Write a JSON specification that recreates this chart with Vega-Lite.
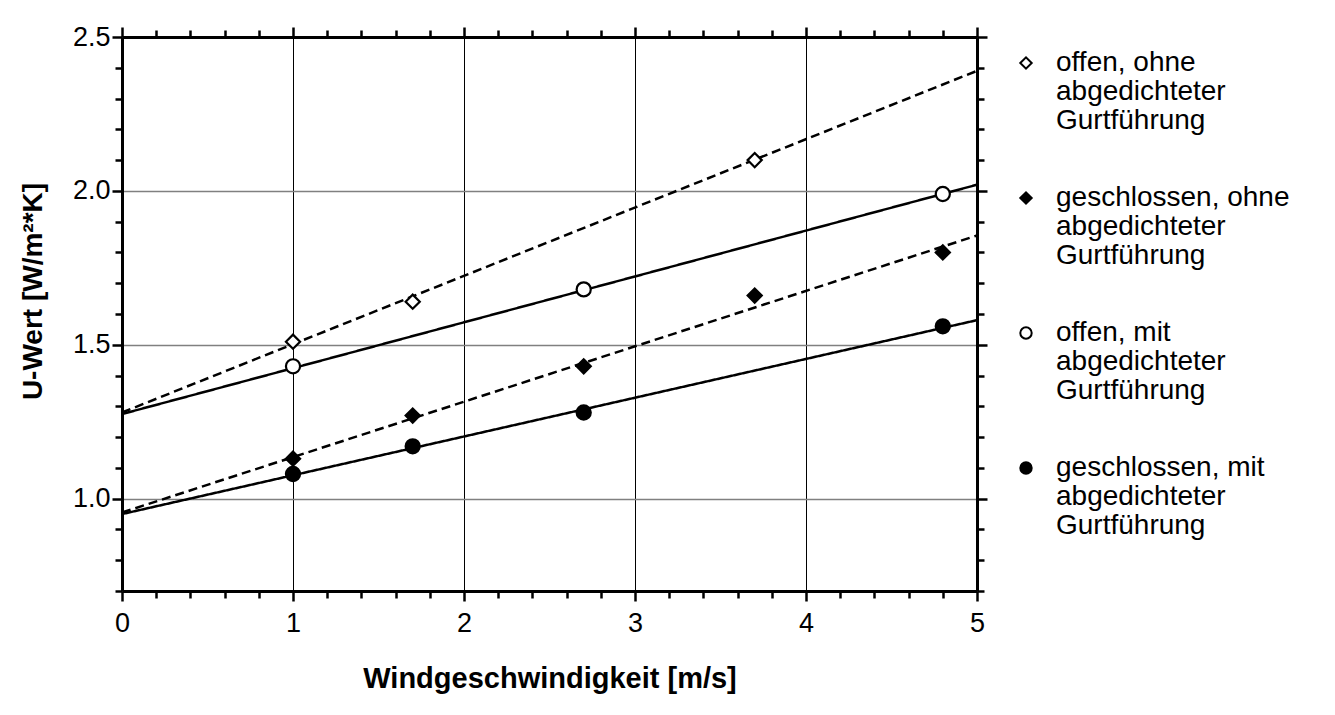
{
  "$schema": "https://vega.github.io/schema/vega-lite/v6.json",
  "width": 855,
  "height": 554,
  "autosize": "none",
  "padding": {"left": 122, "top": 37, "right": 358, "bottom": 124},
  "background": "white",
  "config": {
    "font": "Liberation Sans",
    "view": {"stroke": null},
    "style": {"guide-label": {"lineHeight": 29}},
    "legend": {
      "title": null,
      "labelFontSize": 28, "labelColor": "black", "labelLimit": 400,
      "symbolSize": 130, "symbolStrokeWidth": 2,
      "rowPadding": 49, "labelOffset": 16
    }
  },
  "datasets": {
    "lines": [
      {"series": "offen, ohne\nabgedichteter\nGurtführung", "dichtung": "ohne", "wind": 0, "u": 1.28},
      {"series": "offen, ohne\nabgedichteter\nGurtführung", "dichtung": "ohne", "wind": 5, "u": 2.39},
      {"series": "geschlossen, ohne\nabgedichteter\nGurtführung", "dichtung": "ohne", "wind": 0, "u": 0.955},
      {"series": "geschlossen, ohne\nabgedichteter\nGurtführung", "dichtung": "ohne", "wind": 5, "u": 1.855},
      {"series": "offen, mit\nabgedichteter\nGurtführung", "dichtung": "mit", "wind": 0, "u": 1.275},
      {"series": "offen, mit\nabgedichteter\nGurtführung", "dichtung": "mit", "wind": 5, "u": 2.02},
      {"series": "geschlossen, mit\nabgedichteter\nGurtführung", "dichtung": "mit", "wind": 0, "u": 0.95},
      {"series": "geschlossen, mit\nabgedichteter\nGurtführung", "dichtung": "mit", "wind": 5, "u": 1.58}
    ],
    "points": [
      {"series": "offen, ohne\nabgedichteter\nGurtführung", "wind": 1, "u": 1.51},
      {"series": "offen, ohne\nabgedichteter\nGurtführung", "wind": 1.7, "u": 1.64},
      {"series": "offen, ohne\nabgedichteter\nGurtführung", "wind": 3.7, "u": 2.1},
      {"series": "geschlossen, ohne\nabgedichteter\nGurtführung", "wind": 1, "u": 1.13},
      {"series": "geschlossen, ohne\nabgedichteter\nGurtführung", "wind": 1.7, "u": 1.27},
      {"series": "geschlossen, ohne\nabgedichteter\nGurtführung", "wind": 2.7, "u": 1.43},
      {"series": "geschlossen, ohne\nabgedichteter\nGurtführung", "wind": 3.7, "u": 1.66},
      {"series": "geschlossen, ohne\nabgedichteter\nGurtführung", "wind": 4.8, "u": 1.8},
      {"series": "offen, mit\nabgedichteter\nGurtführung", "wind": 1, "u": 1.43},
      {"series": "offen, mit\nabgedichteter\nGurtführung", "wind": 2.7, "u": 1.68},
      {"series": "offen, mit\nabgedichteter\nGurtführung", "wind": 4.8, "u": 1.99},
      {"series": "geschlossen, mit\nabgedichteter\nGurtführung", "wind": 1, "u": 1.08},
      {"series": "geschlossen, mit\nabgedichteter\nGurtführung", "wind": 1.7, "u": 1.17},
      {"series": "geschlossen, mit\nabgedichteter\nGurtführung", "wind": 2.7, "u": 1.28},
      {"series": "geschlossen, mit\nabgedichteter\nGurtführung", "wind": 4.8, "u": 1.56}
    ]
  },
  "layer": [
    {
      "data": {"name": "lines"},
      "mark": {"type": "line", "color": "black", "strokeWidth": 2.5},
      "encoding": {
        "x": {
          "field": "wind", "type": "quantitative",
          "scale": {"domain": [0, 5], "nice": false, "zero": false},
          "axis": {
            "orient": "bottom",
            "values": [0, 0.2, 0.4, 0.6, 0.8, 1, 1.2, 1.4, 1.6, 1.8, 2, 2.2, 2.4, 2.6, 2.8, 3, 3.2, 3.4, 3.6, 3.8, 4, 4.2, 4.4, 4.6, 4.8, 5],
            "labelExpr": "abs(datum.value - round(datum.value)) < 0.001 ? format(datum.value, 'd') : ''",
            "labelOverlap": false,
            "labelFlush": false,
            "labelFontSize": 27,
            "labelColor": "black",
            "labelPadding": 9,
            "tickSize": {"condition": {"test": "abs(datum.value - round(datum.value)) < 0.001", "value": 10}, "value": 7},
            "tickWidth": 2.5,
            "tickColor": "black",
            "domainColor": "black",
            "domainWidth": 3,
            "grid": true,
            "gridColor": "black",
            "gridWidth": 1,
            "gridOpacity": {"condition": {"test": "abs(datum.value - round(datum.value)) < 0.001 && datum.value > 0.5 && datum.value < 4.5", "value": 1}, "value": 0},
            "title": "Windgeschwindigkeit [m/s]",
            "titleFontSize": 29,
            "titleFontWeight": "bold",
            "titleColor": "black",
            "titleBaseline": "middle",
            "titleY": 87
          }
        },
        "y": {
          "field": "u", "type": "quantitative",
          "scale": {"domain": [0.7, 2.5], "nice": false, "zero": false},
          "axis": {
            "orient": "left",
            "values": [0.7, 0.8, 0.9, 1, 1.1, 1.2, 1.3, 1.4, 1.5, 1.6, 1.7, 1.8, 1.9, 2, 2.1, 2.2, 2.3, 2.4, 2.5],
            "labelExpr": "abs(datum.value * 2 - round(datum.value * 2)) < 0.001 ? format(datum.value, '.1f') : ''",
            "labelOverlap": false,
            "labelFlush": false,
            "labelFontSize": 27,
            "labelColor": "black",
            "labelPadding": 2,
            "tickSize": {"condition": {"test": "abs(datum.value * 2 - round(datum.value * 2)) < 0.001", "value": 10}, "value": 7},
            "tickWidth": 2.5,
            "tickColor": "black",
            "domainColor": "black",
            "domainWidth": 3,
            "grid": true,
            "gridColor": "#808080",
            "gridWidth": 1.5,
            "gridOpacity": {"condition": {"test": "abs(datum.value * 2 - round(datum.value * 2)) < 0.001 && datum.value < 2.4", "value": 1}, "value": 0},
            "title": "U-Wert [W/m²*K]",
            "titleFontSize": 28,
            "titleFontWeight": "bold",
            "titleColor": "black",
            "titleBaseline": "middle",
            "titleX": -89,
            "titleY": 254
          }
        },
        "detail": {"field": "series", "type": "nominal"},
        "strokeDash": {
          "field": "dichtung", "type": "nominal",
          "scale": {"domain": ["ohne", "mit"], "range": [[9, 5], [1, 0]]},
          "legend": null
        }
      }
    },
    {
      "data": {"name": "points"},
      "mark": {"type": "point", "filled": true, "strokeWidth": 2.2, "opacity": 1, "size": 200},
      "encoding": {
        "x": {
          "field": "wind", "type": "quantitative",
          "axis": {
            "orient": "top",
            "values": [0, 0.2, 0.4, 0.6, 0.8, 1, 1.2, 1.4, 1.6, 1.8, 2, 2.2, 2.4, 2.6, 2.8, 3, 3.2, 3.4, 3.6, 3.8, 4, 4.2, 4.4, 4.6, 4.8, 5],
            "labels": false,
            "tickSize": {"condition": {"test": "abs(datum.value - round(datum.value)) < 0.001", "value": 10}, "value": 7},
            "tickWidth": 2.5,
            "tickColor": "black",
            "domainColor": "black",
            "domainWidth": 3,
            "grid": false,
            "title": null
          }
        },
        "y": {
          "field": "u", "type": "quantitative",
          "axis": {
            "orient": "right",
            "values": [0.7, 0.8, 0.9, 1, 1.1, 1.2, 1.3, 1.4, 1.5, 1.6, 1.7, 1.8, 1.9, 2, 2.1, 2.2, 2.3, 2.4, 2.5],
            "labels": false,
            "tickSize": {"condition": {"test": "abs(datum.value * 2 - round(datum.value * 2)) < 0.001", "value": 10}, "value": 7},
            "tickWidth": 2.5,
            "tickColor": "black",
            "domainColor": "black",
            "domainWidth": 3,
            "grid": false,
            "title": null
          }
        },
        "shape": {
          "field": "series", "type": "nominal",
          "scale": {
            "domain": ["offen, ohne\nabgedichteter\nGurtführung", "geschlossen, ohne\nabgedichteter\nGurtführung", "offen, mit\nabgedichteter\nGurtführung", "geschlossen, mit\nabgedichteter\nGurtführung"],
            "range": ["diamond", "diamond", "circle", "circle"]
          },
          "legend": {
            "orient": "none", "legendX": 890, "legendY": 12,
            "labelExpr": "split(datum.label, '\\n')"
          }
        },
        "fill": {
          "field": "series", "type": "nominal",
          "scale": {
            "domain": ["offen, ohne\nabgedichteter\nGurtführung", "geschlossen, ohne\nabgedichteter\nGurtführung", "offen, mit\nabgedichteter\nGurtführung", "geschlossen, mit\nabgedichteter\nGurtführung"],
            "range": ["white", "black", "white", "black"]
          },
          "legend": {
            "orient": "none", "legendX": 890, "legendY": 12,
            "labelExpr": "split(datum.label, '\\n')"
          }
        },
        "stroke": {
          "field": "series", "type": "nominal",
          "scale": {
            "domain": ["offen, ohne\nabgedichteter\nGurtführung", "geschlossen, ohne\nabgedichteter\nGurtführung", "offen, mit\nabgedichteter\nGurtführung", "geschlossen, mit\nabgedichteter\nGurtführung"],
            "range": ["black", "black", "black", "black"]
          },
          "legend": {
            "orient": "none", "legendX": 890, "legendY": 12,
            "labelExpr": "split(datum.label, '\\n')"
          }
        }
      }
    }
  ],
  "resolve": {"axis": {"x": "independent", "y": "independent"}}
}
